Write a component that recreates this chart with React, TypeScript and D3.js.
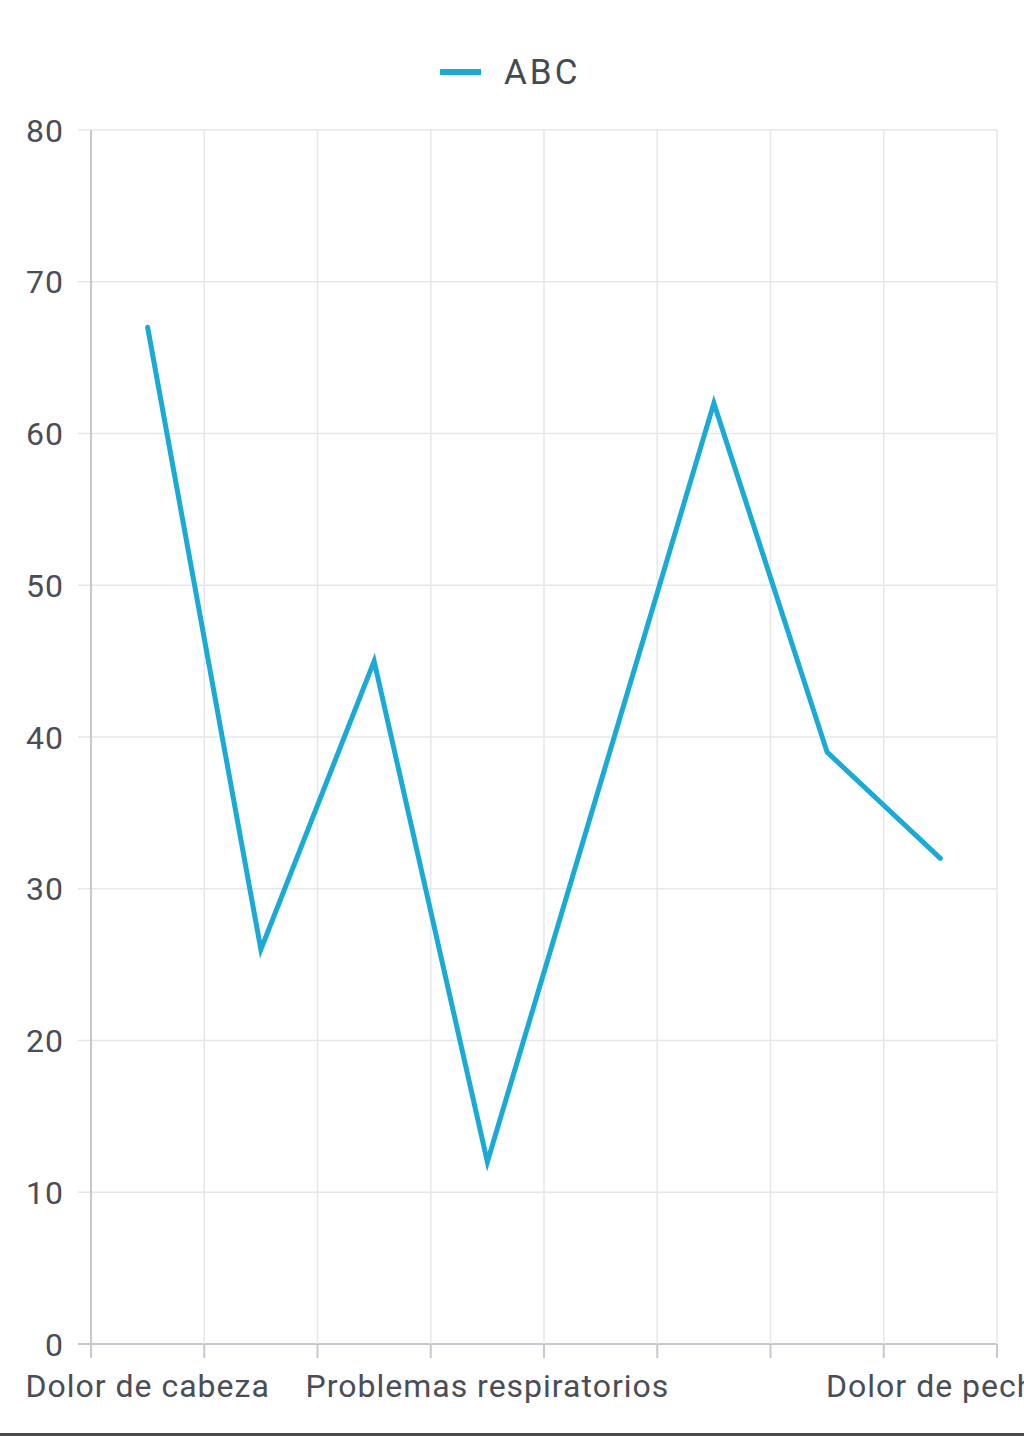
import React from "react";
import * as d3 from "d3";

const categories = [
  "Dolor de cabeza",
  "Fiebre",
  "Tos",
  "Problemas respiratorios",
  "Fatiga",
  "Náuseas",
  "Mareos",
  "Dolor de pecho",
];
const shownLabels = [true, false, false, true, false, false, false, true];
const values = [67, 26, 45, 12, 37, 62, 39, 32];
const yTicks = [0, 10, 20, 30, 40, 50, 60, 70, 80];
const seriesName = "ABC";

const W = 1024;
const H = 1436;
const left = 91;
const right = 997;
const top = 130;
const bottom = 1344;
const COLOR = "#1aaad6";
const FONT = "Roboto, 'Noto Sans', sans-serif";

export default function App() {
  const x = d3.scaleBand<string>().domain(categories).range([left, right]).padding(0);
  const y = d3.scaleLinear().domain([0, 80]).range([bottom, top]);
  const line = d3
    .line<number>()
    .x((_, i) => (x(categories[i]) as number) + x.bandwidth() / 2)
    .y((d) => y(d));
  const edges = categories.map((c) => x(c) as number).concat([right]);

  return (
    <svg
      width={W}
      height={H}
      style={{ position: "absolute", left: 0, top: 0, background: "#fff" }}
      fontFamily={FONT}
    >
      <rect x={0} y={0} width={W} height={H} fill="#fff" />
      {/* legend */}
      <line x1={440} x2={481} y1={72} y2={72} stroke={COLOR} strokeWidth={6} />
      <text x={504} y={84} fontSize={35} fill="#454a52" letterSpacing={3}>
        {seriesName}
      </text>
      {/* horizontal grid */}
      {yTicks.map((t) => (
        <g key={"y" + t}>
          <line
            x1={78}
            x2={right}
            y1={y(t)}
            y2={y(t)}
            stroke={t === 0 ? "#c6c8d0" : "#e6e7ea"}
            strokeWidth={t === 0 ? 2 : 1.5}
          />
          <text
            x={64}
            y={y(t) + 11.5}
            textAnchor="end"
            fontSize={32}
            fill="#4a4d55"
            letterSpacing={1}
          >
            {t}
          </text>
        </g>
      ))}
      {/* vertical grid */}
      {edges.map((e, i) => (
        <g key={"x" + i}>
          <line
            x1={e}
            x2={e}
            y1={top}
            y2={bottom}
            stroke={i === 0 ? "#c6c8d0" : "#e6e7ea"}
            strokeWidth={i === 0 ? 2 : 1.5}
          />
          <line x1={e} x2={e} y1={bottom} y2={1358} stroke="#c6c8d0" strokeWidth={2} />
        </g>
      ))}
      {/* x labels */}
      {categories.map((c, i) =>
        shownLabels[i] ? (
          <text
            key={"l" + i}
            x={(x(c) as number) + x.bandwidth() / 2}
            y={1397}
            textAnchor="middle"
            fontSize={32}
            fill="#4a4d55"
            letterSpacing={1}
          >
            {c}
          </text>
        ) : null
      )}
      <path
        d={line(values) as string}
        fill="none"
        stroke={COLOR}
        strokeWidth={5}
        strokeLinejoin="miter"
        strokeLinecap="round"
      />
      <rect x={0} y={1433} width={W} height={3} fill="#4a4a4a" />
    </svg>
  );
}
